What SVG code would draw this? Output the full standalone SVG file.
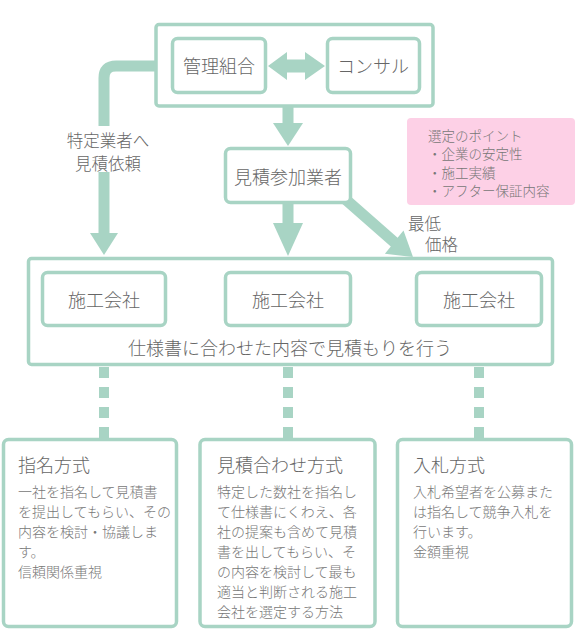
<svg xmlns="http://www.w3.org/2000/svg" width="575" height="630" viewBox="0 0 575 630">
<style>
text{font-family:"Noto Sans CJK JP","Noto Sans",sans-serif;fill:#666;font-weight:300}
.box{fill:#fff;stroke:#a8d4c4;stroke-width:3.5}
.frame{fill:none;stroke:#a8d4c4;stroke-width:3.5}
.lbl{font-size:18px;text-anchor:middle}
.arrow{fill:#a8d4c4}
.bar{stroke:#a8d4c4;stroke-width:11;fill:none}
.dash{stroke:#a8d4c4;stroke-width:10;stroke-dasharray:11 9}
.title{font-size:18px}
.body{font-size:14px;fill:#777}
.pink{font-size:13.5px;fill:#777}
.side{font-size:16.5px}
</style>
<g id="top-group">
<rect class="frame" x="156" y="24.5" width="277" height="81.5" rx="3"/>
</g>
<g id="spec-group">
<rect class="frame" x="28.5" y="258.5" width="524" height="106" rx="3"/>
<text class="lbl" x="290" y="355">仕様書に合わせた内容で見積もりを行う</text>
</g>
<g id="connectors">
<path class="bar" d="M156 66 H116 Q104 66 104 78 V126"/>
<path class="bar" d="M104 172 V234"/>
<polygon class="arrow" points="90,233 118,233 104,255"/>
<rect class="arrow" x="282.5" y="105" width="11" height="20"/>
<polygon class="arrow" points="273,123 303,123 288,146"/>
<rect class="arrow" x="282.5" y="200" width="11" height="25"/>
<polygon class="arrow" points="273,223 303,223 288,256"/>
<polygon class="arrow" points="343.6,190.3 336.7,198.9 390.8,246.4 384.9,253.8 413,257 403.5,230.4 397.6,237.8"/>
<polygon class="arrow" points="268,66 287,52 287,59.5 305,59.5 305,52 325,66 305,80 305,72.5 287,72.5 287,80"/>
<line class="dash" x1="104" y1="367" x2="104" y2="440"/>
<line class="dash" x1="288" y1="367" x2="288" y2="440"/>
<line class="dash" x1="479" y1="367" x2="479" y2="440"/>
<text class="side" x="108" y="147" text-anchor="middle">特定業者へ</text>
<text class="side" x="108" y="170" text-anchor="middle">見積依頼</text>
<text class="side" x="408" y="230">最低</text>
<text class="side" x="425" y="251">価格</text>
</g>
<g id="kanri">
<rect class="box" x="172.5" y="38.5" width="93" height="54" rx="5"/>
<text class="lbl" x="219" y="73">管理組合</text>
</g>
<g id="consul">
<rect class="box" x="327.5" y="38.5" width="92" height="54" rx="5"/>
<text class="lbl" x="373" y="73">コンサル</text>
</g>
<g id="sanka">
<rect class="box" x="225.5" y="148.5" width="125" height="54" rx="5"/>
<text class="lbl" x="288" y="184">見積参加業者</text>
</g>
<g id="points">
<rect x="407" y="118" width="168" height="87" rx="4" fill="#fdd0e6"/>
<text class="pink" x="428" y="140.5">選定のポイント</text>
<text class="pink" x="428" y="159">・企業の安定性</text>
<text class="pink" x="428" y="177.5">・施工実績</text>
<text class="pink" x="428" y="196">・アフター保証内容</text>
</g>
<g id="company1">
<rect class="box" x="42.5" y="272.5" width="123" height="53" rx="5"/>
<text class="lbl" x="104" y="307">施工会社</text>
</g>
<g id="company2">
<rect class="box" x="225.5" y="272.5" width="125" height="53" rx="5"/>
<text class="lbl" x="288" y="307">施工会社</text>
</g>
<g id="company3">
<rect class="box" x="416.5" y="272.5" width="125" height="53" rx="5"/>
<text class="lbl" x="479" y="307">施工会社</text>
</g>
<g id="shimei">
<rect class="box" x="3.5" y="439.5" width="173" height="187" rx="5"/>
<text class="title" x="18" y="472">指名方式</text>
<text class="body" x="18" y="497">一社を指名して見積書</text>
<text class="body" x="18" y="517">を提出してもらい、その</text>
<text class="body" x="18" y="537">内容を検討・協議しま</text>
<text class="body" x="18" y="557">す。</text>
<text class="body" x="18" y="577">信頼関係重視</text>
</g>
<g id="awase">
<rect class="box" x="200" y="439.5" width="175" height="187" rx="5"/>
<text class="title" x="217" y="472">見積合わせ方式</text>
<text class="body" x="217" y="497">特定した数社を指名し</text>
<text class="body" x="217" y="517">て仕様書にくわえ、各</text>
<text class="body" x="217" y="537">社の提案も含めて見積</text>
<text class="body" x="217" y="557">書を出してもらい、そ</text>
<text class="body" x="217" y="577">の内容を検討して最も</text>
<text class="body" x="217" y="597">適当と判断される施工</text>
<text class="body" x="217" y="617">会社を選定する方法</text>
</g>
<g id="nyusatsu">
<rect class="box" x="397.5" y="439.5" width="174" height="187" rx="5"/>
<text class="title" x="413" y="472">入札方式</text>
<text class="body" x="413" y="497">入札希望者を公募また</text>
<text class="body" x="413" y="517">は指名して競争入札を</text>
<text class="body" x="413" y="537">行います。</text>
<text class="body" x="413" y="557">金額重視</text>
</g>
</svg>
